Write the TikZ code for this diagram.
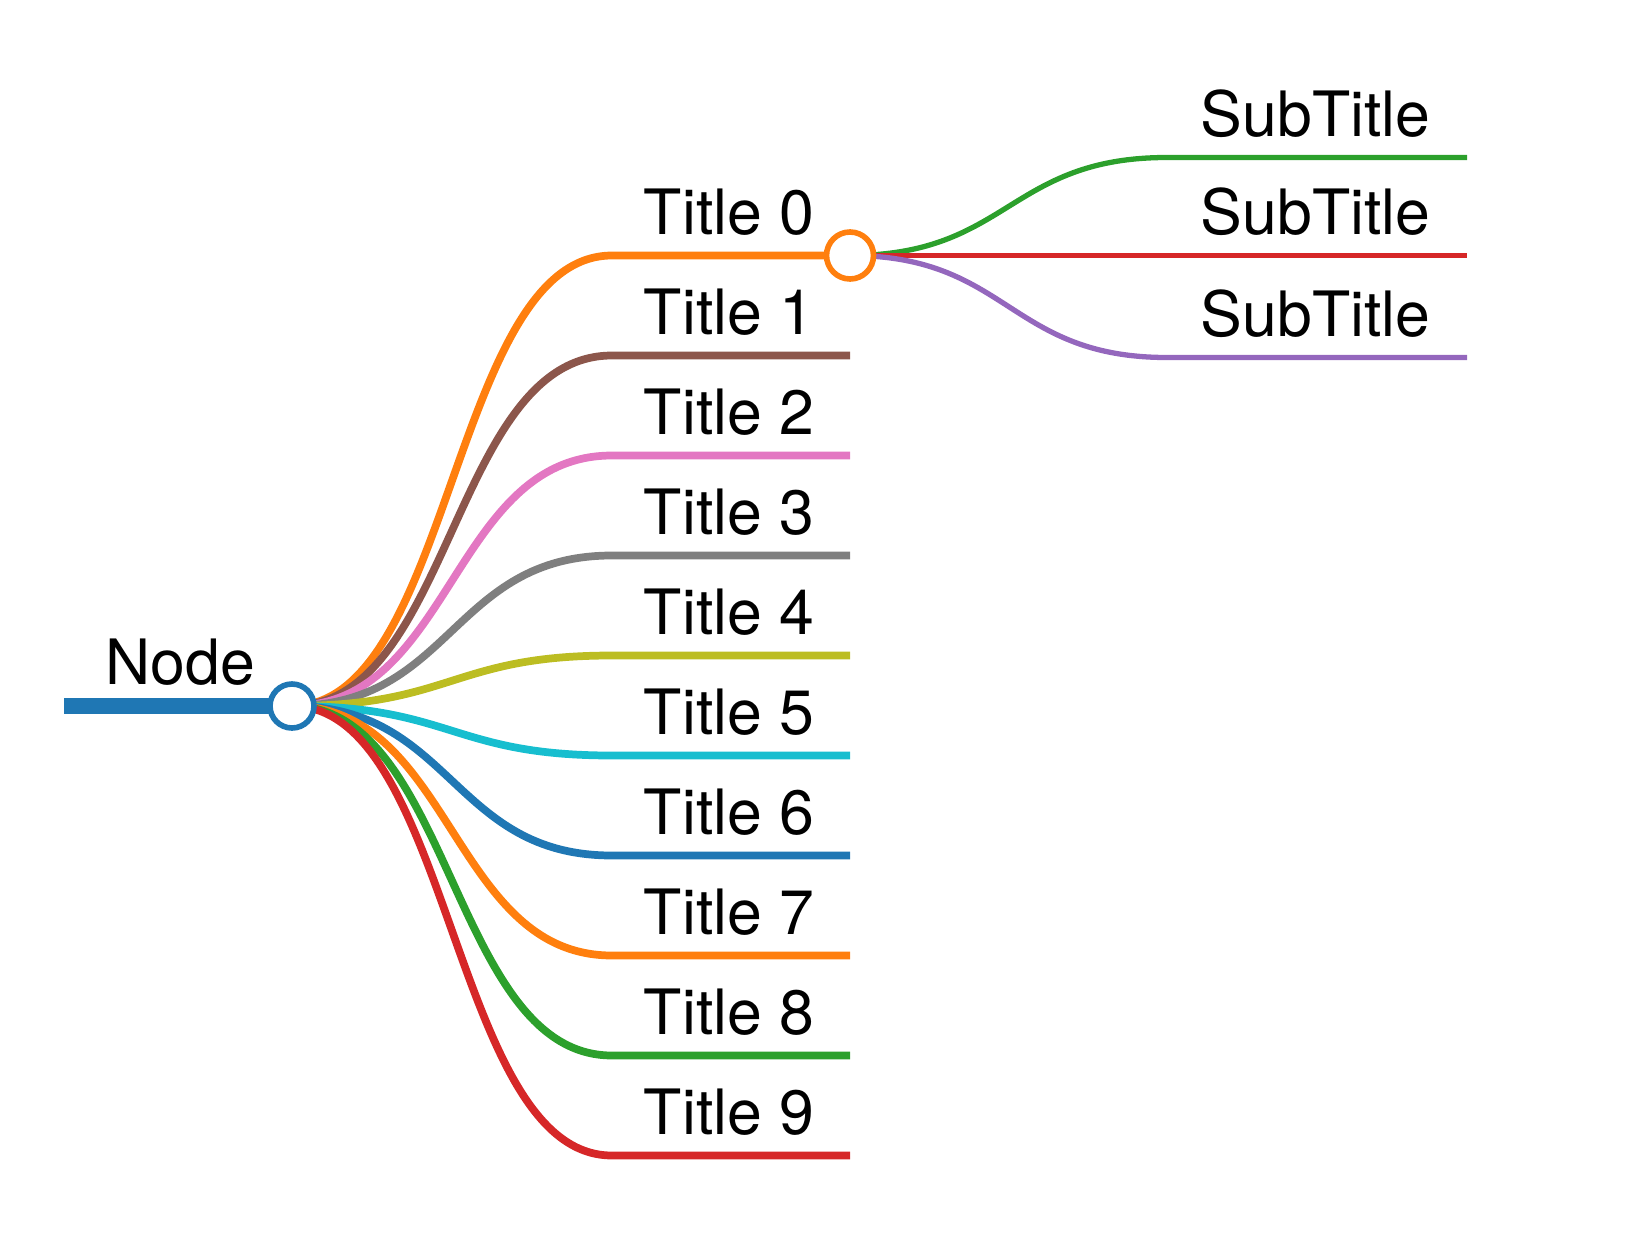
\documentclass[tikz,border=0pt]{standalone}
\usepackage{fontspec}
\setmainfont{TeX Gyre Heros}
\usetikzlibrary{calc}
\definecolor{tabBlue}{HTML}{1F77B4}
\definecolor{tabOrange}{HTML}{FF7F0E}
\definecolor{tabGreen}{HTML}{2CA02C}
\definecolor{tabRed}{HTML}{D62728}
\definecolor{tabPurple}{HTML}{9467BD}
\definecolor{tabBrown}{HTML}{8C564B}
\definecolor{tabPink}{HTML}{E377C2}
\definecolor{tabGray}{HTML}{7F7F7F}
\definecolor{tabOlive}{HTML}{BCBD22}
\definecolor{tabCyan}{HTML}{17BECF}
\tikzset{
  stemln/.style={line width=4.3pt},
  branchln/.style={line width=2.2pt},
  leafln/.style={line width=1.5pt},
  hub/.style={circle, draw, fill=white, line width=1.6pt, minimum size=0.45cm, inner sep=0pt},
  lbl/.style={anchor=base east, inner sep=0pt, font=\fontsize{17.8}{20}\selectfont},
}

\begin{document}
\begin{tikzpicture}
    \useasboundingbox (0,0) rectangle (16.26,12.46);
    \coordinate (root) at (2.92,5.40);
    \coordinate (stem) at (0.64,5.40);
    % root stem
    \draw[stemln, tabBlue] (stem) -- (root);
    % first level
    \foreach \i/\c in {0/tabOrange,1/tabBrown,2/tabPink,3/tabGray,4/tabOlive,
                       5/tabCyan,6/tabBlue,7/tabOrange,8/tabGreen,9/tabRed} {
      \coordinate (t\i s) at (6.12,9.905-\i);
      \coordinate (t\i e) at (8.50,9.905-\i);
      \draw[branchln, \c] (root) .. controls +(1.6,0) and +(-1.6,0) .. (t\i s) -- (t\i e);
    }
    % second level
    \foreach \j/\c/\dy in {0/tabGreen/0.98,1/tabRed/0,2/tabPurple/-1.02} {
      \coordinate (s\j s) at (11.67,9.905+\dy);
      \coordinate (s\j e) at (14.67,9.905+\dy);
      \draw[leafln, \c] (t0e) .. controls +(1.585,0) and +(-1.585,0) .. (s\j s) -- (s\j e);
    }
    \node[hub, draw=tabBlue, minimum size=0.44cm] (roothub) at (root) {};
    \node[hub, draw=tabOrange, minimum size=0.47cm] (t0hub) at (t0e) {};
    % labels
    \node[lbl] (rootlbl) at ($(root)+(-0.36,0.22)$) {Node};
    \foreach \i in {0,...,9} {
      \node[lbl] (t\i lbl) at ($(t\i e)+(-0.35,0.21)$) {Title \i};
    }
    \foreach \j in {0,1,2} {
      \node[lbl] (s\j lbl) at ($(s\j e)+(-0.36,0.21)$) {SubTitle};
    }
\end{tikzpicture}
\end{document}
